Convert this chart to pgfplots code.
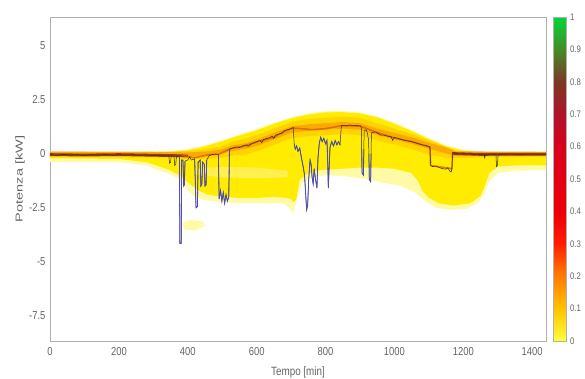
\documentclass[border=0pt]{standalone}
\usepackage{fontspec}
\setmainfont{Liberation Sans}
\newfontfamily\tickfont{Liberation Sans}[FakeStretch=0.82]
\newfontfamily\ylabfont{Liberation Sans}[FakeStretch=1.45]
\usepackage{pgfplots}
\pgfplotsset{compat=1.18}

\definecolor{labgray}{RGB}{100,100,100}
\definecolor{frame}{RGB}{175,175,175}
\definecolor{paleyel}{RGB}{255,250,165}
\definecolor{coreyel}{RGB}{255,236,0}
\definecolor{orangeA}{RGB}{255,165,0}
\definecolor{orangeB}{RGB}{240,110,0}
\definecolor{darkband}{RGB}{150,45,20}
\definecolor{domeband}{RGB}{215,85,0}
\definecolor{tracecol}{RGB}{45,45,60}
\definecolor{dipblue}{RGB}{75,75,190}

% density colour scale: yellow -> orange -> red -> brown -> green
\pgfplotsset{colormap={potenza}{
  rgb255=(255,255,60) rgb255=(255,195,0) rgb255=(255,125,0) rgb255=(255,30,0)
  rgb255=(235,0,10) rgb255=(228,0,18) rgb255=(215,0,28) rgb255=(175,20,45)
  rgb255=(125,55,35) rgb255=(70,140,40) rgb255=(0,215,55)}}

\begin{document}
\begin{tikzpicture}
\begin{axis}[
  at={(0,0)}, anchor=south west,
  scale only axis, width=496pt, height=324pt,
  xmin=0, xmax=1440, ymin=-8.65, ymax=6.3,
  xtick={0,200,400,600,800,1000,1200,1400},
  xticklabels={0,200,400,600,800,1000,1200,1400},
  ytick={-7.5,-5,-2.5,0,2.5,5},
  yticklabels={-7.5,-5,-2.5,0,2.5,5},
  major tick length=0pt,
  axis line style={draw=frame},
  tick label style={text=labgray, font=\tickfont\fontsize{11.5}{12}\selectfont},
  xticklabel style={yshift=-3pt},
  yticklabel style={xshift=-1pt},
  xlabel={Tempo [min]},
  xlabel style={at={(axis description cs:0.5,-0.107)}, anchor=base,
    text=labgray, font=\tickfont\fontsize{12}{12}\selectfont},
  ylabel={Potenza [kW]},
  ylabel style={at={(axis description cs:-0.0605,0.5)}, anchor=center,
    text=labgray, font=\ylabfont\fontsize{10}{10}\selectfont},
  colormap name=potenza,
  point meta min=0, point meta max=1,
  colorbar,
  colorbar style={
    at={(parent axis.north east)}, anchor=north west, xshift=-1pt,
    scale only axis, width=13pt, height=324pt,
    ytick={0,0.1,0.2,0.3,0.4,0.5,0.6,0.7,0.8,0.9,1},
    yticklabels={0,0.1,0.2,0.3,0.4,0.5,0.6,0.7,0.8,0.9,1},
    yticklabel style={text=labgray, font=\tickfont\fontsize{9.5}{10}\selectfont},
    major tick length=0pt,
    axis line style={draw=frame},
  },
  unbounded coords=jump,
  clip=true,
]

% outer, faint part of the power distribution
\addplot[draw=none, fill=paleyel] coordinates {
  (0,0.1) (300,0.1) (350,0.12) (400,0.2) (450,0.38) (500,0.62) (550,0.88)
  (600,1.12) (650,1.42) (700,1.67) (750,1.85) (800,1.95) (850,1.96) (900,1.9)
  (950,1.72) (1000,1.42) (1050,1.08) (1100,0.72) (1150,0.38) (1200,0.17)
  (1250,0.1) (1440,0.1)
  (1440,-0.75) (1350,-0.8) (1300,-0.9) (1275,-1.3) (1262,-1.8) (1245,-2.25)
  (1210,-2.55) (1160,-2.6) (1120,-2.5) (1090,-2.2) (1060,-1.8) (1020,-1.5)
  (970,-1.35) (920,-1.2) (860,-1.05) (800,-1.0) (760,-1.1) (730,-1.4)
  (712,-2.4) (705,-2.75) (695,-2.5) (680,-2.3) (620,-2.3) (560,-2.3)
  (500,-2.25) (450,-2.15) (420,-2.0) (400,-1.7) (375,-1.2) (350,-0.95)
  (320,-0.8) (280,-0.55) (200,-0.4) (0,-0.38)
} -- cycle;
% isolated faint cluster
\addplot[draw=none, fill=paleyel] coordinates {
  (385,-3.2) (410,-3.05) (445,-3.15) (450,-3.35) (420,-3.55) (390,-3.5)
} -- cycle;

% main body of the distribution
\addplot[draw=none, fill=coreyel] coordinates {
  (0,0.06) (300,0.06) (350,0.08) (400,0.15) (450,0.33) (500,0.57) (550,0.83)
  (600,1.07) (650,1.37) (700,1.62) (750,1.8) (800,1.9) (850,1.91) (900,1.85)
  (950,1.67) (1000,1.37) (1050,1.03) (1100,0.67) (1150,0.33) (1200,0.13)
  (1250,0.06) (1440,0.06)
  (1440,-0.55) (1350,-0.55) (1300,-0.6) (1275,-0.9) (1262,-1.5) (1250,-1.95)
  (1220,-2.3) (1170,-2.4) (1130,-2.3) (1100,-2.05) (1080,-1.7) (1070,-1.3)
  (1050,-0.9) (1000,-0.7) (950,-0.65) (900,-0.65) (850,-0.7) (790,-0.75)
  (750,-0.9) (725,-1.2) (715,-2.1) (708,-2.25) (700,-2.1) (690,-2.05)
  (650,-2.0) (600,-2.05) (550,-2.05) (500,-2.0) (460,-1.9) (430,-1.7)
  (410,-1.45) (390,-1.2) (370,-0.95) (345,-0.75) (310,-0.55) (280,-0.4)
  (200,-0.25) (0,-0.22)
} -- cycle;
% lighter streak inside the body
\addplot[draw=none, fill=white, fill opacity=0.3] coordinates {
  (420,-0.7) (500,-0.62) (600,-0.65) (690,-0.8)
  (690,-1.1) (600,-1.15) (500,-1.1) (420,-0.95)
} -- cycle;

% denser band around the typical profile
\addplot[draw=none, fill=orangeA, fill opacity=0.35] coordinates {
  (0,0.08) (340,0.08) (400,0.12) (460,0.2) (500,0.35) (530,0.55) (570,0.7)
  (610,0.9) (650,1.15) (700,1.45) (750,1.6) (800,1.65) (850,1.7) (900,1.65)
  (950,1.4) (1000,1.15) (1050,0.9) (1100,0.6) (1150,0.3) (1180,0.1) (1440,0.08)
  (1440,-0.15) (1180,-0.2) (1150,-0.2) (1100,-0.05) (1050,0.2) (1000,0.4)
  (950,0.6) (900,0.85) (850,0.9) (800,0.85) (750,0.8) (700,0.7) (650,0.4)
  (610,0.15) (570,-0.05) (530,-0.1) (500,-0.2) (460,-0.25) (400,-0.25)
  (340,-0.2) (0,-0.15)
} -- cycle;
\addplot[draw=none, fill=orangeB, fill opacity=0.4] coordinates {
  (0,0.1) (340,0.08) (400,0.05) (460,0.1) (500,0.2) (530,0.38) (570,0.48)
  (610,0.7) (650,0.95) (700,1.25) (750,1.35) (800,1.4) (850,1.45) (900,1.4)
  (950,1.15) (1000,0.95) (1050,0.75) (1100,0.5) (1150,0.28) (1180,0.1) (1440,0.08)
  (1440,-0.1) (1180,-0.12) (1150,0.0) (1100,0.22) (1050,0.45) (1000,0.65)
  (950,0.85) (900,1.1) (850,1.15) (800,1.1) (750,1.05) (700,0.95) (650,0.65)
  (610,0.4) (570,0.22) (530,0.12) (500,0.0) (460,-0.12) (400,-0.15)
  (340,-0.12) (0,-0.1)
} -- cycle;

% highest density: night-time baseline
\addplot[darkband, line width=2.8pt, opacity=0.9] coordinates {
  (0,-0.05) (100,-0.07) (200,-0.05) (300,-0.08) (376,-0.1) (400,-0.12)
  (0,nan)
  (1169,0.0) (1250,-0.04) (1350,-0.03) (1440,-0.03)
};
% high density along the daytime profile
\addplot[domeband, line width=1.6pt, opacity=0.7] coordinates {
  (380,-0.08) (420,-0.2) (460,-0.05) (489,-0.04) (521,0.2) (530,0.25)
  (560,0.33) (585,0.45) (610,0.58) (650,0.75) (680,1.02) (706,1.18)
  (760,1.1) (800,1.15) (846,1.28) (900,1.27) (944,1.0) (1000,0.72)
  (1050,0.55) (1103,0.3) (1105,-0.55) (1167,-0.7) (1169,0.0)
};

% measured power of the selected day
\addplot[tracecol, line width=0.5pt] coordinates {
  (0,-0.05) (20,-0.08) (40,-0.04) (60,-0.07) (80,-0.05) (100,-0.09) (120,-0.05)
  (140,-0.07) (160,-0.04) (180,-0.08) (200,-0.05) (220,-0.07) (240,-0.05)
  (260,-0.09) (280,-0.06) (300,-0.1) (320,-0.07) (335,-0.12) (345,-0.1)
  (347,-0.45) (350,-0.4) (352,-0.1) (360,-0.12) (362,-0.55) (365,-0.5)
  (367,-0.15) (376,-0.1) (377,-4.15) (381,-4.15) (382,-0.3) (386,-0.3)
  (388,-1.5) (390,-1.45) (392,-0.35) (400,-0.3) (405,-0.15) (410,-0.3)
  (420,-0.25) (424,-2.5) (428,-2.45) (430,-0.4) (436,-0.3) (438,-1.5)
  (441,-1.4) (443,-0.4) (448,-0.5) (450,-1.5) (453,-1.45) (455,-0.3)
  (462,-0.1) (470,-0.05) (480,-0.02) (489,-0.05) (491,-2.1) (495,-1.7)
  (499,-2.2) (503,-1.8) (507,-2.3) (511,-1.9) (515,-2.2) (519,-2.0)
  (521,0.2) (530,0.25) (540,0.3) (550,0.28) (560,0.35) (570,0.4) (575,0.33)
  (585,0.45) (600,0.55) (610,0.6) (615,0.5) (620,0.65) (635,0.72) (645,0.8)
  (650,0.7) (655,0.85) (665,0.9) (675,0.95) (680,1.05) (690,1.1) (700,1.15)
  (706,1.2) (709,0.45) (712,0.2) (716,0.35) (720,0.1) (725,0.25) (730,-0.2)
  (735,-0.6) (739,-1.0) (742,-1.8) (745,-2.6) (748,-2.4) (751,-1.2)
  (755,-0.3) (758,-0.5) (761,-1.1) (764,-1.4) (767,-0.7) (771,-1.2)
  (775,-1.6) (778,-0.2) (782,0.5) (786,0.75) (790,0.55) (795,0.7) (800,0.45)
  (804,0.6) (806,-0.2) (808,-1.6) (810,-0.8) (813,0.3) (818,0.55) (823,0.35)
  (828,0.6) (833,0.4) (838,0.55) (842,0.4) (846,1.3) (860,1.28) (870,1.32)
  (880,1.28) (890,1.3) (900,1.27) (904,1.2) (906,-0.9) (910,-1.0) (912,1.05)
  (918,1.1) (922,0.9) (925,0.6) (927,-1.2) (931,-1.3) (933,0.95) (944,1.0)
  (950,0.95) (960,0.85) (970,0.85) (980,0.8) (990,0.78) (995,0.6) (998,0.75)
  (1010,0.7) (1020,0.65) (1030,0.6) (1040,0.58) (1050,0.55) (1060,0.5)
  (1070,0.45) (1080,0.4) (1090,0.38) (1103,0.3) (1105,-0.55) (1110,-0.6)
  (1120,-0.58) (1130,-0.65) (1140,-0.7) (1150,-0.72) (1155,-0.65)
  (1160,-0.8) (1165,-0.85) (1167,-0.6) (1169,0.05) (1180,0.0) (1190,-0.02)
  (1200,0.0) (1210,-0.03) (1220,0.0) (1230,-0.05) (1240,-0.02) (1250,-0.05)
  (1260,-0.03) (1262,-0.2) (1264,-0.05) (1270,-0.06) (1280,-0.02)
  (1290,-0.05) (1295,-0.05) (1296,-0.6) (1299,-0.55) (1301,-0.05)
  (1320,-0.04) (1340,-0.02) (1360,-0.05) (1380,-0.03) (1400,-0.02)
  (1420,-0.04) (1440,-0.03)
};
% deep drops of the same trace
\addplot[dipblue, line width=0.8pt] coordinates {
  (376,-0.1) (377,-4.15) (381,-4.15) (382,-0.3) (386,-0.3) (388,-1.5)
  (390,-1.45) (392,-0.35)
  (0,nan)
  (420,-0.25) (424,-2.5) (428,-2.45) (430,-0.4) (436,-0.3) (438,-1.5)
  (441,-1.4) (443,-0.4) (448,-0.5) (450,-1.5) (453,-1.45) (455,-0.3)
  (0,nan)
  (489,-0.05) (491,-2.1) (495,-1.7) (499,-2.2) (503,-1.8) (507,-2.3)
  (511,-1.9) (515,-2.2) (519,-2.0) (521,0.2)
  (0,nan)
  (709,0.45) (712,0.2) (716,0.35) (720,0.1) (725,0.25) (730,-0.2)
  (735,-0.6) (739,-1.0) (742,-1.8) (745,-2.6) (748,-2.4) (751,-1.2)
  (755,-0.3) (758,-0.5) (761,-1.1) (764,-1.4) (767,-0.7) (771,-1.2)
  (775,-1.6) (778,-0.2) (782,0.5) (786,0.75) (790,0.55) (795,0.7) (800,0.45)
  (804,0.6) (806,-0.2) (808,-1.6) (810,-0.8) (813,0.3) (818,0.55) (823,0.35)
  (828,0.6) (833,0.4) (838,0.55) (842,0.4)
  (0,nan)
  (905,0.2) (906,-0.9) (910,-1.0) (911,0.2)
  (0,nan)
  (926,0.0) (927,-1.2) (931,-1.3) (932,0.0)
};
\end{axis}
\pgfresetboundingbox
\path[use as bounding box] (-50pt,-38pt) rectangle (535pt,341pt);
\end{tikzpicture}
\end{document}
